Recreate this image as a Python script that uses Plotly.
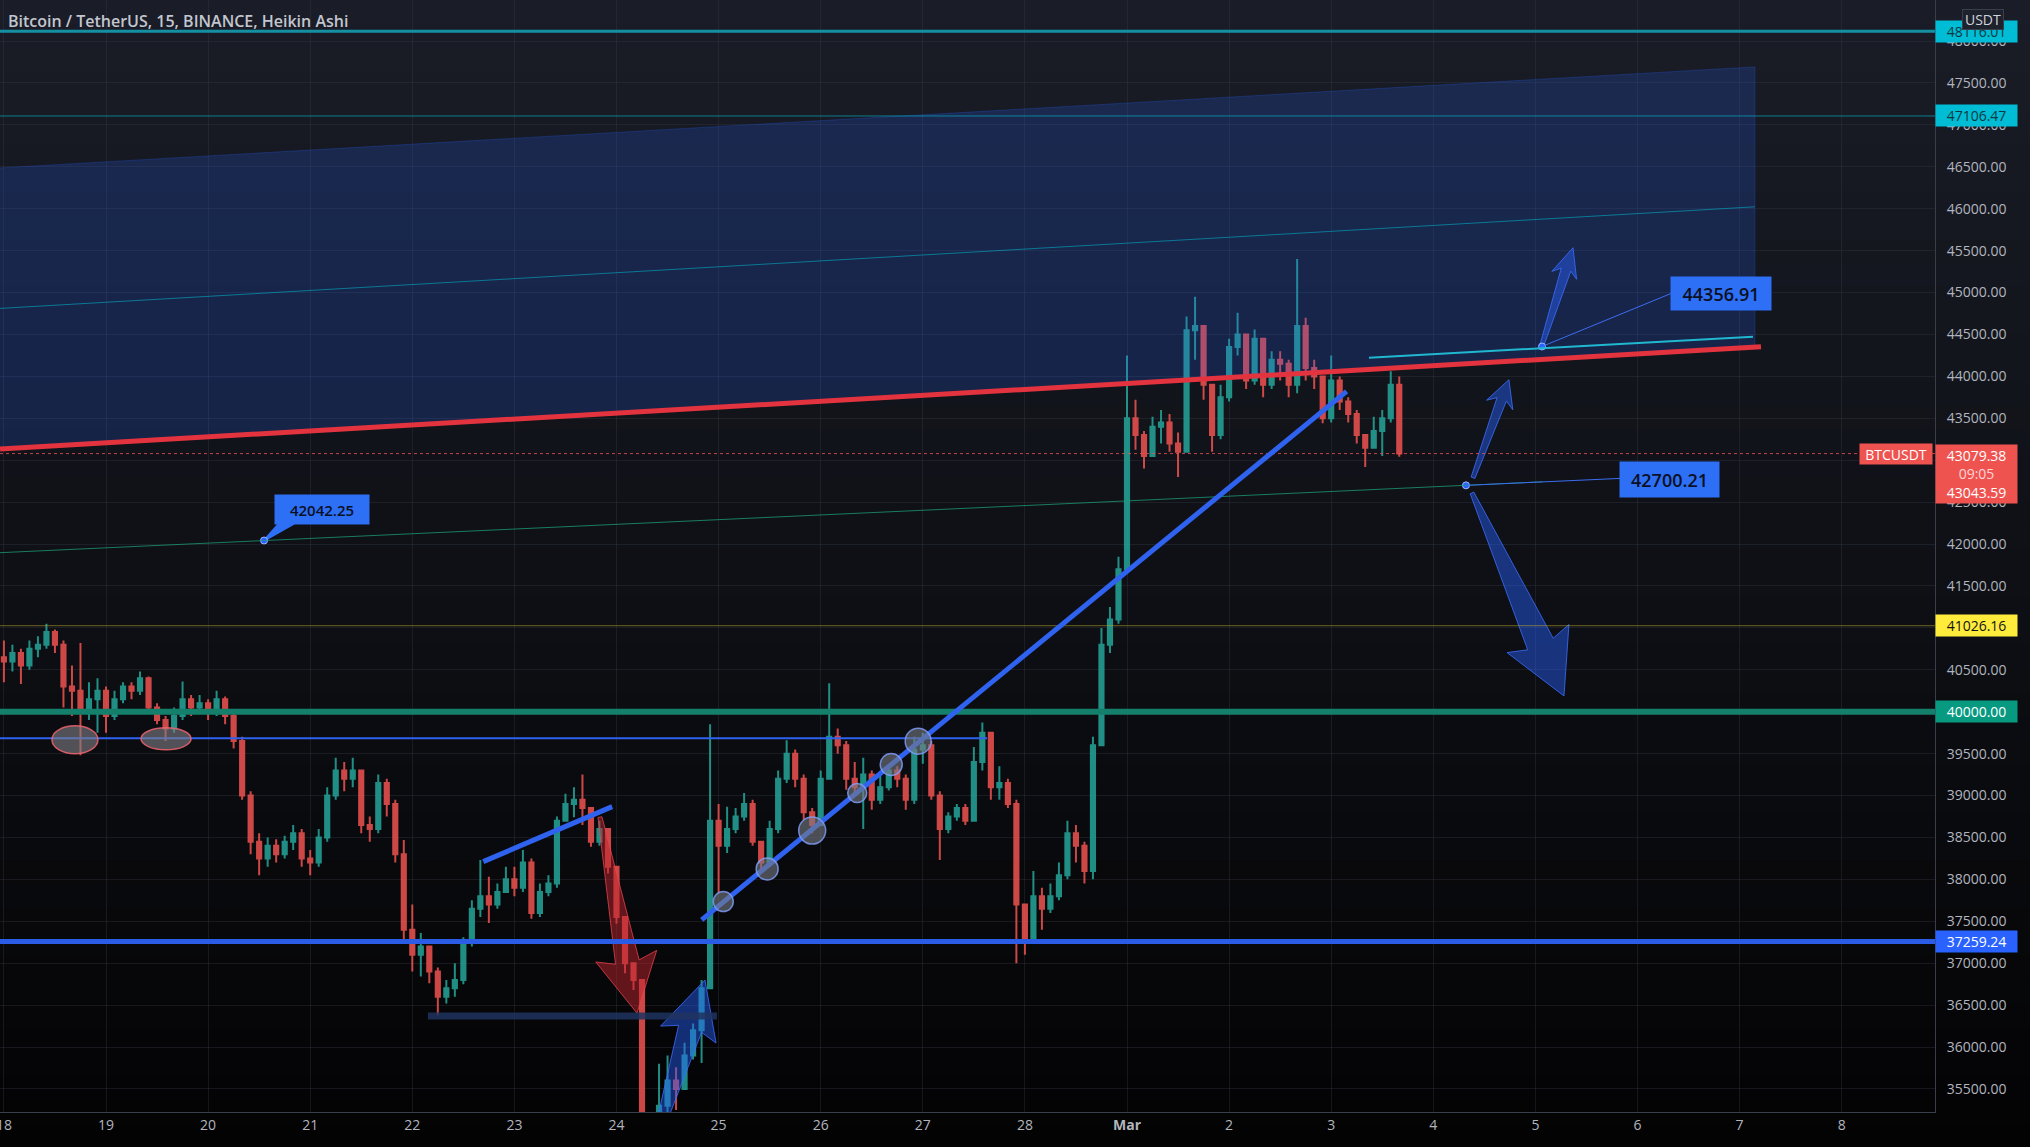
import math
import pandas as pd
import plotly.graph_objects as go

# ---------------- values ----------------
candle_start = "2022-02-17 22:00"      # 2-hour Heikin Ashi candles (open = previous close)
first_open = 40700

closes = [
    40650,                                                                         # Feb 17 22h
    40600, 40700, 40550, 40750, 40800, 40950, 40800, 40300, 40250, 40000, 40150, 40250,  # Feb 18
    39950, 40150, 40300, 40250, 40400, 40050, 39900, 39800, 39950, 40150, 40050, 40100,  # Feb 19
    40000, 40150, 39950, 39650, 39000, 38450, 38250, 38400, 38300, 38450, 38550, 38250,  # Feb 20
    38200, 38500, 39000, 39300, 39200, 39300, 38650, 38600, 39150, 38900, 38300, 37400,  # Feb 21
    37100, 37200, 36900, 36600, 36700, 36800, 37250, 37650, 37800, 37700, 37850, 38000,  # Feb 22
    37900, 38200, 37600, 37850, 37950, 38700, 38900, 38950, 38850, 38450, 38600, 38150,  # Feb 23
    37550, 37000, 36800, 34800, 34700, 35300, 35600, 35500, 35900, 36200, 36700, 38700,  # Feb 24
    38400, 38600, 38750, 38900, 38450, 38200, 38600, 39200, 39500, 39200, 38800, 38650,  # Feb 25
    39200, 39700, 39600, 39200, 39100, 39250, 38950, 39100, 39300, 39200, 38950, 39550,  # Feb 26
    39600, 39000, 38600, 38750, 38850, 38700, 39400, 39750, 39100, 39150, 38900, 37700,  # Feb 27
    37300, 37800, 37650, 37800, 38050, 38550, 38400, 38100, 39600, 40800, 41100, 41700,  # Feb 28
    43500, 43300, 43050, 43400, 43450, 43200, 43100, 44550, 44600, 43900, 43300, 43750,  # Mar 1
    44350, 44500, 43950, 44450, 43900, 44200, 44150, 43900, 44600, 44100, 44000, 43500,  # Mar 2
    43950, 43700, 43550, 43300, 43150, 43350, 43500, 43900, 43079.38,                    # Mar 3
]
highs = [
    40850,
    40850, 40800, 40750, 40850, 40900, 41050, 40980, 40850, 40550, 40820, 40350, 40400,
    40300, 40250, 40350, 40350, 40480, 40420, 40100, 39950, 40050, 40360, 40200, 40200,
    40150, 40250, 40180, 39980, 39700, 39050, 38550, 38500, 38480, 38520, 38650, 38600,
    38350, 38600, 39100, 39450, 39400, 39450, 39300, 38750, 39250, 39200, 38950, 38470,
    37700, 37360, 37200, 36950, 36800, 37000, 37310, 37750, 38230, 38030, 37950, 38150,
    38150, 38350, 38250, 37950, 38050, 38750, 39020, 39100, 39250, 38850, 38700, 38600,
    38150, 37550, 37000, 36800, 35000, 35800, 35900, 35760, 36050, 36280, 36800, 39850,
    38900, 38865, 38850, 39030, 38950, 38450, 38700, 39300, 39660, 39550, 39250, 38850,
    39300, 40340, 39800, 39650, 39400, 39450, 39300, 39250, 39340, 39350, 39250, 39700,
    39750, 39650, 39050, 38800, 38900, 38900, 39580, 39870, 39750, 39350, 39200, 38950,
    37700, 38100, 37900, 37950, 38200, 38700, 38650, 38450, 39700, 41000, 41250, 41850,
    44250, 43720, 43350, 43520, 43600, 43550, 43330, 44715, 44950, 44600, 43900, 43900,
    44450, 44760, 44450, 44560, 44350, 44300, 44300, 44200, 45400, 44700, 44200, 43950,
    44250, 44000, 43750, 43600, 43300, 43520, 43600, 44060, 44000,
]
lows = [
    40450,
    40350, 40480, 40330, 40500, 40650, 40750, 40700, 40050, 39950, 39480, 39900, 39750,
    39750, 39900, 40100, 40150, 40200, 39980, 39850, 39650, 39750, 39900, 39950, 39980,
    39900, 39950, 39850, 39560, 38950, 38300, 38050, 38150, 38200, 38250, 38350, 38150,
    38050, 38150, 38450, 38950, 39050, 39100, 38550, 38450, 38550, 38750, 38200, 37250,
    36900, 36840, 36760, 36380, 36520, 36600, 36750, 37200, 37550, 37480, 37650, 37840,
    37800, 37850, 37530, 37550, 37800, 37900, 38700, 38740, 38650, 38390, 38400, 38070,
    37470, 36880, 36680, 34400, 34350, 34800, 35100, 35250, 35500, 35850, 35810, 36700,
    37840, 38315, 38550, 38700, 38400, 38080, 38150, 38550, 39150, 39100, 38710, 38550,
    38650, 39200, 39500, 39070, 39000, 38600, 38830, 38900, 39060, 39100, 38830, 38900,
    39380, 38950, 38230, 38550, 38700, 38650, 38700, 39300, 38950, 38950, 38850, 37000,
    37100, 37250, 37400, 37600, 37750, 38000, 38200, 37950, 38000, 39600, 40700, 41050,
    41700, 43125, 42900, 43050, 43200, 43100, 42800, 43100, 44200, 43720, 43100, 43250,
    43700, 44250, 43850, 43900, 43750, 43850, 43950, 43750, 43800, 43950, 43850, 43440,
    43450, 43600, 43450, 43200, 42920, 43150, 43050, 43450, 43040,
]

x_tick_dates = ["2022-02-18", "2022-02-19", "2022-02-20", "2022-02-21", "2022-02-22",
                "2022-02-23", "2022-02-24", "2022-02-25", "2022-02-26", "2022-02-27",
                "2022-02-28", "2022-03-01", "2022-03-02", "2022-03-03", "2022-03-04",
                "2022-03-05", "2022-03-06", "2022-03-07", "2022-03-08"]
x_tick_text = ["18", "19", "20", "21", "22", "23", "24", "25", "26", "27", "28",
               "<b>Mar</b>", "2", "3", "4", "5", "6", "7", "8"]

# price ticks; labels that sit fully under a price box in the reference are left blank
y_tick_vals = [35500, 36000, 36500, 37000, 37500, 38000, 38500, 39000, 39500, 40000,
               40500, 41000, 41500, 42000, 42500, 43000, 43500, 44000, 44500, 45000,
               45500, 46000, 46500, 47000, 47500, 48000]
y_tick_text = ["35500.00", "36000.00", "36500.00", "37000.00", "37500.00", "38000.00",
               "38500.00", "39000.00", "39500.00", "", "40500.00", "", "41500.00",
               "42000.00", "42500.00", "", "43500.00", "44000.00", "44500.00", "45000.00",
               "45500.00", "46000.00", "46500.00", "47000.00", "47500.00", "48000.00"]

chart_title = "Bitcoin / TetherUS, 15, BINANCE, Heikin Ashi"
symbol = "BTCUSDT"
currency = "USDT"
level_top = 48116.01
level_cyan = 47106.47
level_yellow = 41026.16
level_green = 40000.00
level_blue = 37259.24
last_price = 43079.38
second_price = 43043.59
countdown = "09:05"

# drawings (time, price)
channel_top = [("2022-02-17 23:05", 46487), ("2022-03-07 03:36", 47692)]
channel_mid = [("2022-02-17 23:05", 44811), ("2022-03-07 03:36", 46023)]
channel_bot = [("2022-02-17 23:05", 43135), ("2022-03-07 03:36", 44351)]
red_line = [("2022-02-17 23:05", 43135), ("2022-03-07 05:02", 44355)]
green_line = [("2022-02-17 23:05", 41897), ("2022-03-05 01:41", 42743)]
cyan_short = [("2022-03-03 08:53", 44223), ("2022-03-07 03:09", 44474)]
blue_trend = [("2022-02-24 20:01", 37517), ("2022-03-03 03:37", 43821)]
blue_short = [("2022-02-22 16:41", 38212), ("2022-02-23 22:59", 38868)]
blue_level = [("2022-02-17 23:05", 39682), ("2022-02-27 15:07", 39682)]
navy_level = [("2022-02-22 03:40", 36370), ("2022-02-24 23:38", 36370)]

touch_times = ["2022-02-25 01:06", "2022-02-25 11:25", "2022-02-25 22:00",
               "2022-02-26 08:35", "2022-02-26 16:35", "2022-02-26 22:55"]
touch_prices = [37735, 38125, 38582, 39029, 39370, 39649]
touch_radius = [10, 11, 13.5, 9.5, 11, 13]

ellipse_times = ["2022-02-18 16:42", "2022-02-19 14:07"]
ellipse_prices = [39665, 39677]

callout_points = [("2022-02-20 13:09", 42042.25), ("2022-03-04 07:41", 42700.21),
                  ("2022-03-05 01:34", 44356.91)]
callout_text = ["42042.25", "42700.21", "44356.91"]

arrows = [  # tail, tip, colour
    (("2022-02-23 20:07", 38743), ("2022-02-24 04:49", 36404), "red"),
    (("2022-02-24 07:52", 34652), ("2022-02-24 20:48", 36799), "blue"),
    (("2022-03-05 01:34", 44378), ("2022-03-05 08:51", 45535), "blue"),
    (("2022-03-04 09:20", 42791), ("2022-03-04 17:47", 43961), "blue"),
    (("2022-03-04 09:06", 42610), ("2022-03-05 06:43", 40188), "blue"),
]
arrow_sizes = [(52, 31, 12), (51, 29, 12), (23, 13, 5), (21, 14, 5), (57, 34, 14)]

# ---------------- layout constants ----------------
W, H = 2030, 1147
M_R, M_B = 95, 35
PLOT_W, PLOT_H = W - M_R, H - M_B
X_RANGE = ["2022-02-17 23:05", "2022-03-08 21:56"]
Y_RANGE = [35225, 48490]
FONT = "Open Sans, Noto Sans, sans-serif"
UP, DOWN = "#26a69a", "#ef5350"
BLUE = "#2962ff"

T0 = pd.Timestamp(X_RANGE[0])
PX_PER_DAY = PLOT_W / ((pd.Timestamp(X_RANGE[1]) - T0).total_seconds() / 86400)
PX_PER_USD = PLOT_H / (Y_RANGE[1] - Y_RANGE[0])


def to_px(t, p):
    return ((pd.Timestamp(t) - T0).total_seconds() / 86400 * PX_PER_DAY,
            (Y_RANGE[1] - p) * PX_PER_USD)


def from_px(x, y):
    t = T0 + pd.Timedelta(days=x / PX_PER_DAY)
    return t.strftime("%Y-%m-%d %H:%M:%S"), Y_RANGE[1] - y / PX_PER_USD


def offset(t, p, dx, dy):
    x, y = to_px(t, p)
    return from_px(x + dx, y + dy)


# ---------------- candles ----------------
assert len(closes) == len(highs) == len(lows)
times = pd.date_range(candle_start, periods=len(closes), freq="2h")
opens = [first_open] + closes[:-1]
hi = [max(h, o, c) for h, o, c in zip(highs, opens, closes)]
lo = [min(l, o, c) for l, o, c in zip(lows, opens, closes)]

fig = go.Figure()
fig.add_trace(go.Candlestick(
    x=times, open=opens, high=hi, low=lo, close=closes,
    increasing=dict(line=dict(color=UP, width=2), fillcolor=UP),
    decreasing=dict(line=dict(color=DOWN, width=2), fillcolor=DOWN),
    opacity=0.85, hoverinfo="skip", whiskerwidth=0))

# channel fill
fig.add_trace(go.Scatter(
    x=[channel_top[0][0], channel_top[1][0], channel_bot[1][0], channel_bot[0][0]],
    y=[channel_top[0][1], channel_top[1][1], channel_bot[1][1], channel_bot[0][1]],
    fill="toself", fillcolor="rgba(41,98,255,0.2)", mode="lines",
    line=dict(color="rgba(41,98,255,0.25)", width=1), hoverinfo="skip"))


# arrows
def arrow_poly(tail, tip, head_len, head_hw, shaft_hw, tail_hw=2.0, sweep=6):
    tx, ty = to_px(*tail)
    hx, hy = to_px(*tip)
    L = math.hypot(hx - tx, hy - ty)
    ux, uy = (hx - tx) / L, (hy - ty) / L
    nx, ny = -uy, ux
    bx, by = hx - ux * head_len, hy - uy * head_len
    pts = [(tx + nx * tail_hw, ty + ny * tail_hw),
           (bx + nx * shaft_hw, by + ny * shaft_hw),
           (bx - ux * sweep + nx * head_hw, by - uy * sweep + ny * head_hw),
           (hx, hy),
           (bx - ux * sweep - nx * head_hw, by - uy * sweep - ny * head_hw),
           (bx - nx * shaft_hw, by - ny * shaft_hw),
           (tx - nx * tail_hw, ty - ny * tail_hw)]
    pts.append(pts[0])
    conv = [from_px(x, y) for x, y in pts]
    return [c[0] for c in conv], [c[1] for c in conv]


for (tail, tip, col), (hl, hw, sw) in zip(arrows, arrow_sizes):
    xs, ys = arrow_poly(tail, tip, hl, hw, sw)
    if col == "red":
        fc, lc = "rgba(190,35,45,0.5)", "rgba(235,70,80,0.75)"
    else:
        fc, lc = "rgba(41,98,255,0.45)", "rgba(60,110,255,0.8)"
    fig.add_trace(go.Scatter(x=xs, y=ys, fill="toself", fillcolor=fc, mode="lines",
                             line=dict(color=lc, width=1), hoverinfo="skip"))

# callout wedge for first label
p1t, p1p = callout_points[0]
w1 = offset(p1t, p1p, 15, -17)
w2 = offset(p1t, p1p, 30, -17)
fig.add_trace(go.Scatter(x=[p1t, w1[0], w2[0], p1t], y=[p1p, w1[1], w2[1], p1p],
                         fill="toself", fillcolor="#2d6ff5", mode="lines",
                         line=dict(color="#2d6ff5", width=2), hoverinfo="skip"))

shapes = []
annotations = []

# background gradient
N = 48
yb = -M_B / PLOT_H
top_c, bot_c = (26, 29, 39), (3, 3, 4)
for i in range(N):
    f = (i + 0.5) / N
    c = tuple(int(round(top_c[k] + (bot_c[k] - top_c[k]) * f)) for k in range(3))
    y1 = 1 - i * (1 - yb) / N
    y0 = 1 - (i + 1) * (1 - yb) / N
    shapes.append(dict(type="rect", xref="paper", yref="paper", x0=0, x1=W / PLOT_W,
                       y0=y0 - 0.001, y1=y1, fillcolor="rgb(%d,%d,%d)" % c,
                       line=dict(width=0), layer="below"))


def seg(pts, color, width, dash=None):
    shapes.append(dict(type="line", xref="x", yref="y", x0=pts[0][0], y0=pts[0][1],
                       x1=pts[1][0], y1=pts[1][1],
                       line=dict(color=color, width=width, dash=dash), layer="above"))


def full_h(price, color, width, dash=None):
    shapes.append(dict(type="line", xref="paper", yref="y", x0=0, x1=1, y0=price, y1=price,
                       line=dict(color=color, width=width, dash=dash), layer="above"))


full_h(last_price, "rgba(239,83,80,0.8)", 1, "dot")
full_h(level_top, "#1590a3", 3)
full_h(level_cyan, "rgba(0,188,212,0.6)", 1)
full_h(level_yellow, "rgba(190,170,40,0.55)", 1)
full_h(level_green, "#14806b", 6)
full_h(level_blue, "#2b5ce6", 5)

seg(channel_mid, "rgba(0,188,212,0.55)", 1)
seg(green_line, "rgba(30,160,120,0.75)", 1)
seg(red_line, "#e3333f", 5)
seg(cyan_short, "#1fb8d0", 2)
seg(blue_level, "#2f62ee", 2)
seg(navy_level, "rgba(32,52,95,0.85)", 7)
seg(blue_short, "#2f62ee", 5)
seg(blue_trend, "#2f62ee", 5)

for t, p, r in zip(touch_times, touch_prices, touch_radius):
    shapes.append(dict(type="circle", xref="x", yref="y", xsizemode="pixel", ysizemode="pixel",
                       xanchor=t, yanchor=p, x0=-r, x1=r, y0=-r, y1=r,
                       fillcolor="rgba(120,123,134,0.6)",
                       line=dict(color="rgba(130,160,255,0.8)", width=1.5), layer="above"))
for t, p, (rx, ry) in zip(ellipse_times, ellipse_prices, [(23, 14), (25, 11)]):
    shapes.append(dict(type="circle", xref="x", yref="y", xsizemode="pixel", ysizemode="pixel",
                       xanchor=t, yanchor=p, x0=-rx, x1=rx, y0=-ry, y1=ry,
                       fillcolor="rgba(128,128,135,0.6)",
                       line=dict(color="rgba(240,100,110,0.85)", width=1.5), layer="above"))

# callout connector lines
for (t, p), (dx, dy) in zip(callout_points[1:], [(155, -7), (129, -53)]):
    e = offset(t, p, dx, dy)
    shapes.append(dict(type="line", xref="x", yref="y", x0=t, y0=p, x1=e[0], y1=e[1],
                       line=dict(color="#3a6df0", width=1), layer="above"))

fig.add_trace(go.Scatter(x=[c[0] for c in callout_points], y=[c[1] for c in callout_points],
                         mode="markers", marker=dict(size=7, color=BLUE,
                                                     line=dict(color="#9db8ff", width=1)),
                         hoverinfo="skip"))

for (t, p), txt, (dx, dy), (bw, bh), fs in zip(
        callout_points, callout_text,
        [(58, 31), (204, 6), (179, 53)], [(90, 25), (95, 31), (96, 29)], [15, 18, 18]):
    annotations.append(dict(xref="x", yref="y", x=t, y=p, xanchor="center", yanchor="middle",
                            xshift=dx, yshift=dy, text=txt, showarrow=False,
                            bgcolor="#2d6ff5", borderpad=2, width=bw, height=bh,
                            font=dict(family=FONT, size=fs, color="#0b1024", weight=600)))


# price-axis labels
def axis_label(price, text, bg, fg, yanchor="middle", yshift=0, height=19):
    annotations.append(dict(xref="paper", yref="y", x=1, y=price, xanchor="left",
                            yanchor=yanchor, yshift=yshift, text=text, showarrow=False,
                            bgcolor=bg, width=79, height=height, borderpad=1, align="center",
                            font=dict(family=FONT, size=14, color=fg)))


axis_label(level_top, "%.2f" % level_top, "#00bcd4", "#0b3940")
axis_label(level_cyan, "%.2f" % level_cyan, "#00bcd4", "#0b3940")
axis_label(level_yellow, "%.2f" % level_yellow, "#ffeb3b", "#131313")
axis_label(level_green, "%.2f" % level_green, "#089981", "#ffffff")
axis_label(level_blue, "%.2f" % level_blue, BLUE, "#ffffff")
axis_label(last_price,
           "%.2f<br><span style='color:#ffd5d5'>%s</span><br>%.2f" % (last_price, countdown, second_price),
           "#ef5350", "#ffffff", yanchor="top", yshift=10, height=56)
annotations.append(dict(xref="paper", yref="y", x=1, y=last_price, xanchor="right", xshift=-2,
                        yanchor="middle", text=symbol, showarrow=False, bgcolor="#ef5350",
                        width=70, height=18, borderpad=1,
                        font=dict(family=FONT, size=14, color="#ffffff")))
annotations.append(dict(xref="paper", yref="paper", x=1, y=1, xanchor="center", yanchor="middle",
                        xshift=48, yshift=-19, text=currency, showarrow=False,
                        bgcolor="#1e222d", bordercolor="#3a3e4a", borderwidth=1, borderpad=1,
                        width=38, height=17, font=dict(family=FONT, size=14, color="#d1d4dc")))
annotations.append(dict(xref="paper", yref="paper", x=0, y=1, xanchor="left", yanchor="top",
                        xshift=6, yshift=-8, text=chart_title, showarrow=False,
                        font=dict(family=FONT, size=16, color="#c3c6cf", weight=600)))

GRID = "rgba(55,60,72,0.35)"
AXIS = "#3a3e48"
fig.update_layout(
    width=W, height=H, margin=dict(l=0, r=M_R, t=0, b=M_B, autoexpand=False),
    paper_bgcolor="#0e1015", plot_bgcolor="rgba(0,0,0,0)", showlegend=False,
    shapes=shapes, annotations=annotations, hovermode=False,
    xaxis=dict(type="date", range=X_RANGE, tickvals=x_tick_dates, ticktext=x_tick_text,
               showgrid=True, gridcolor=GRID, gridwidth=1, zeroline=False, automargin=False,
               ticklabeloverflow="allow",
               showline=True, linecolor=AXIS, ticks="", ticklen=0, rangeslider=dict(visible=False),
               tickfont=dict(family=FONT, size=14, color="#b2b5be"), fixedrange=True),
    yaxis=dict(range=Y_RANGE, side="right", tickmode="array", tickvals=y_tick_vals,
               ticktext=y_tick_text, automargin=False,
               showgrid=True, gridcolor=GRID, gridwidth=1, zeroline=False,
               showline=True, linecolor=AXIS, ticks="", ticklen=0, ticklabelstandoff=8,
               tickfont=dict(family=FONT, size=14, color="#b2b5be"), fixedrange=True),
)

fig.write_html("out.html", config={"displayModeBar": False},
               post_script="document.body.style.margin='0';document.body.style.overflow='hidden';")
